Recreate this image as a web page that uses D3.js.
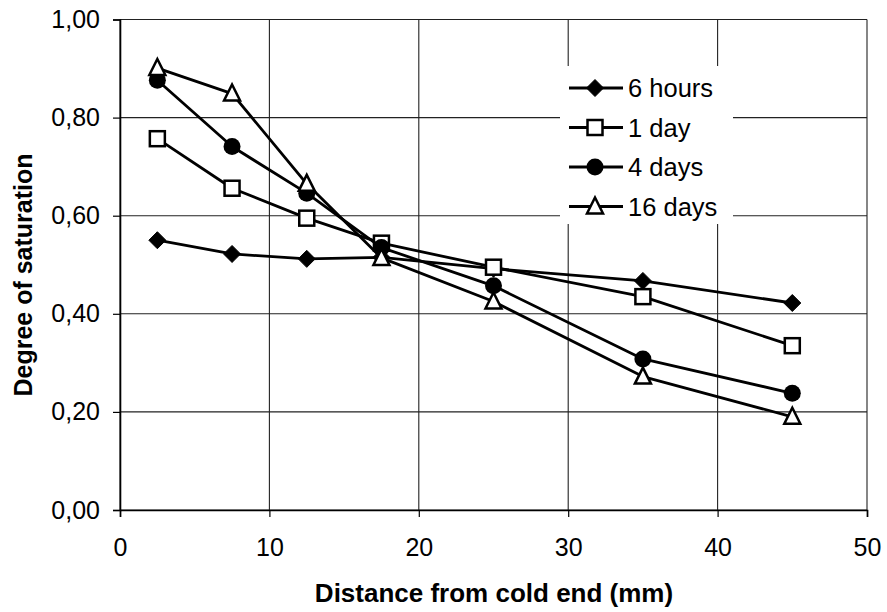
<!DOCTYPE html>
<html>
<head>
<meta charset="utf-8">
<script src="https://cdn.jsdelivr.net/npm/d3@7"></script>
<style>
  html, body { margin: 0; padding: 0; background: #fff; }
  text { font-family: "Liberation Sans", Arial, Helvetica, sans-serif; fill: #000; }
</style>
</head>
<body>
<svg id="chart" width="887" height="612"></svg>
<script>
// Distance from the cold end (mm) at which saturation was measured
const distances = [2.5, 7.5, 12.5, 17.5, 25, 35, 45];

// Degree of saturation per exposure time
const seriesNames = ["6 hours", "1 day", "4 days", "16 days"];
const sat6h  = [0.550, 0.522, 0.512, 0.515, 0.492, 0.467, 0.422];
const sat1d  = [0.757, 0.656, 0.595, 0.544, 0.495, 0.435, 0.335];
const sat4d  = [0.876, 0.741, 0.646, 0.535, 0.457, 0.308, 0.238];
const sat16d = [0.901, 0.849, 0.665, 0.514, 0.425, 0.272, 0.190];
const seriesValues = [sat6h, sat1d, sat4d, sat16d];
const markerKinds = ["diamond", "square", "circle", "triangle"];

// Axis ticks
const xTicks = [0, 10, 20, 30, 40, 50];
const yTicks = [0, 0.2, 0.4, 0.6, 0.8, 1.0];

const svg = d3.select("#chart");
const plotLeft = 120, plotRight = 867, plotTop = 19.5, plotBottom = 510;

const x = d3.scaleLinear().domain([0, 50]).range([plotLeft, plotRight]);
const y = d3.scaleLinear().domain([0, 1]).range([plotBottom, plotTop]);

const fmt = v => v.toFixed(2).replace(".", ",");

// Grid
const grid = svg.append("g").attr("stroke", "#222").attr("stroke-width", 1.1);
yTicks.forEach(t => grid.append("line")
  .attr("x1", plotLeft).attr("x2", plotRight).attr("y1", y(t)).attr("y2", y(t)));
xTicks.forEach(t => grid.append("line")
  .attr("x1", x(t)).attr("x2", x(t)).attr("y1", plotTop).attr("y2", plotBottom));

// Axes
const xAxis = svg.append("g")
  .attr("transform", `translate(0,${plotBottom})`)
  .call(d3.axisBottom(x).tickValues(xTicks).tickSize(7).tickPadding(21).tickFormat(d3.format("d")));
const yAxis = svg.append("g")
  .attr("transform", `translate(${plotLeft},0)`)
  .call(d3.axisLeft(y).tickValues(yTicks).tickSize(7).tickPadding(13).tickFormat(fmt));
[xAxis, yAxis].forEach(a => {
  a.select(".domain").attr("stroke", "#000").attr("stroke-width", 1.6);
  a.selectAll(".tick line").attr("stroke", "#000").attr("stroke-width", 1.2);
  a.selectAll(".tick text").style("font-size", "25px").attr("fill", "#000");
});
xAxis.selectAll(".tick text").attr("dy", "0.72em");

// Symbols
function drawMarker(g, kind, cx, cy) {
  if (kind === "diamond") {
    g.append("path").attr("d", `M${cx},${cy-8.5}L${cx+8.5},${cy}L${cx},${cy+8.5}L${cx-8.5},${cy}Z`)
      .attr("fill", "#000").attr("stroke", "#000").attr("stroke-width", 1);
  } else if (kind === "square") {
    g.append("rect").attr("x", cx-7.5).attr("y", cy-7.5).attr("width", 15).attr("height", 15)
      .attr("fill", "#fff").attr("stroke", "#000").attr("stroke-width", 2.5);
  } else if (kind === "circle") {
    g.append("circle").attr("cx", cx).attr("cy", cy).attr("r", 8.5)
      .attr("fill", "#000");
  } else {
    g.append("path").attr("d", `M${cx},${cy-9}L${cx+8},${cy+7}L${cx-8},${cy+7}Z`)
      .attr("fill", "#fff").attr("stroke", "#000").attr("stroke-width", 2.5)
      .attr("stroke-linejoin", "miter");
  }
}

const line = d3.line().x(d => x(d[0])).y(d => y(d[1]));
seriesValues.forEach((vals, i) => {
  const pts = distances.map((d, j) => [d, vals[j]]);
  const g = svg.append("g");
  g.append("path").attr("d", line(pts)).attr("fill", "none")
    .attr("stroke", "#000").attr("stroke-width", 2.8).attr("stroke-linejoin", "round");
  pts.forEach(p => drawMarker(g, markerKinds[i], x(p[0]), y(p[1])));
});

// Legend
const legend = svg.append("g");
legend.append("rect").attr("x", 560).attr("y", 66).attr("width", 173).attr("height", 158).attr("fill", "#fff");
seriesNames.forEach((name, i) => {
  const ly = 88 + i * 39.5;
  legend.append("line").attr("x1", 569).attr("x2", 623).attr("y1", ly).attr("y2", ly)
    .attr("stroke", "#000").attr("stroke-width", 2.8);
  drawMarker(legend, markerKinds[i], 595, ly);
  legend.append("text").attr("x", 628).attr("y", ly).attr("dy", "0.36em")
    .style("font-size", "25.5px").text(name);
});

// Axis titles
svg.append("text").attr("x", (313 + 675) / 2).attr("y", 602)
  .attr("text-anchor", "middle").style("font-size", "26px").style("font-weight", "bold")
  .text("Distance from cold end (mm)");
svg.append("text").attr("transform", "translate(32,275) rotate(-90)")
  .attr("text-anchor", "middle").style("font-size", "25px").style("font-weight", "bold")
  .text("Degree of saturation");
</script>
</body>
</html>
